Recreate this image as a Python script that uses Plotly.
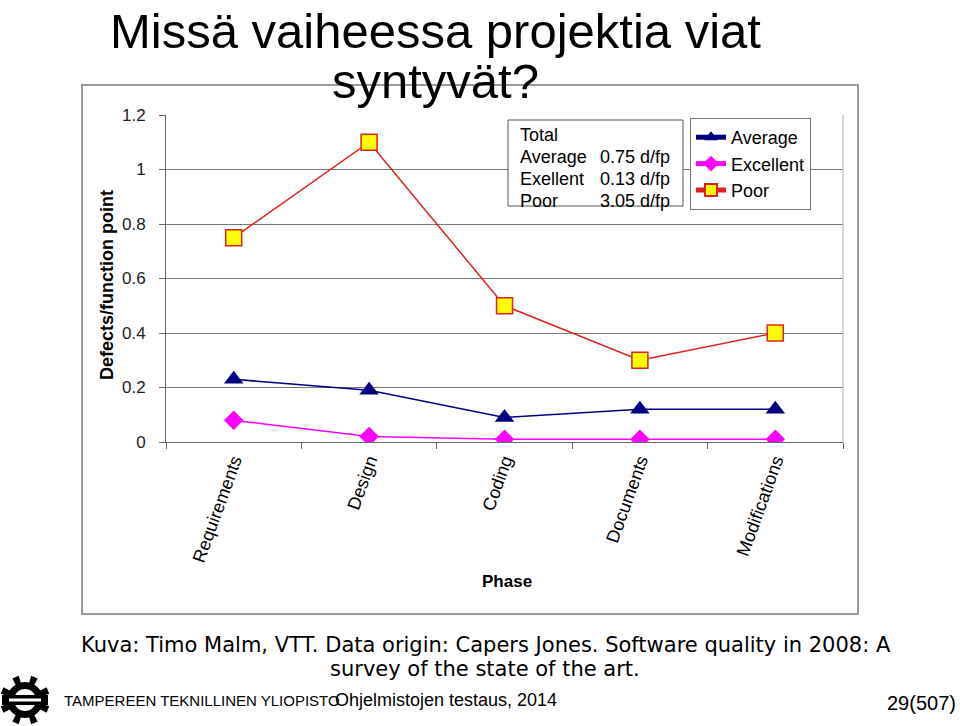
import math
import plotly.graph_objects as go

# ---- data ----
phases = ["Requirements", "Design", "Coding", "Documents", "Modifications"]
average = [0.23, 0.19, 0.09, 0.12, 0.12]
excellent = [0.08, 0.02, 0.01, 0.01, 0.01]
poor = [0.75, 1.10, 0.50, 0.30, 0.40]
y_ticks = [0, 0.2, 0.4, 0.6, 0.8, 1.0, 1.2]
y_tick_text = ["0", "0.2", "0.4", "0.6", "0.8", "1", "1.2"]
totals_labels = ["Average", "Exellent", "Poor"]
totals_values = ["0.75 d/fp", "0.13 d/fp", "3.05 d/fp"]

W, H = 960, 726
L, R, T, B = 166, 843, 115, 442


def px(x):
    return (x - L) / (R - L)


def py(y):
    return (B - y) / (B - T)


fig = go.Figure()
fig.add_trace(go.Scatter(x=phases, y=average, name="Average", mode="lines+markers",
                         line=dict(color="#000080", width=1.5),
                         marker=dict(symbol="triangle-up", size=17, color="#000080")))
fig.add_trace(go.Scatter(x=phases, y=excellent, name="Excellent", mode="lines+markers",
                         line=dict(color="#FF00FF", width=1.5),
                         marker=dict(symbol="diamond", size=15, color="#FF00FF")))
fig.add_trace(go.Scatter(x=phases, y=poor, name="Poor", mode="lines+markers",
                         line=dict(color="#E02020", width=1.5),
                         marker=dict(symbol="square", size=16, color="#FFFF00",
                                     line=dict(color="#E02020", width=1.5))))

shapes = []
# chart outer frame
shapes.append(dict(type="rect", xref="paper", yref="paper", x0=px(82), x1=px(858),
                   y0=py(614), y1=py(85), line=dict(color="#999999", width=2), layer="below"))
# totals box
shapes.append(dict(type="rect", xref="paper", yref="paper", x0=px(508), x1=px(683),
                   y0=py(206), y1=py(120), line=dict(color="#555555", width=1),
                   fillcolor="white", layer="above"))

# logo (gear)
cx, cy = 25, 700
pts = []
for k in range(8):
    a = 22.5 + 45 * k
    for da, r in [(-22.5, 18), (-9, 18), (-8, 25), (8, 25), (9, 18)]:
        ang = math.radians(a + da)
        pts.append((cx + r * math.cos(ang), cy - r * math.sin(ang)))
path = "M " + " L ".join(f"{px(x):.5f},{py(y):.5f}" for x, y in pts) + " Z"
shapes.append(dict(type="path", xref="paper", yref="paper", path=path,
                   fillcolor="black", line=dict(width=0), layer="above"))
shapes.append(dict(type="circle", xref="paper", yref="paper", x0=px(cx - 11), x1=px(cx + 11),
                   y0=py(cy + 11), y1=py(cy - 11), fillcolor="white", line=dict(width=0)))
shapes.append(dict(type="rect", xref="paper", yref="paper", x0=px(2), x1=px(48),
                   y0=py(cy + 5), y1=py(cy - 5), fillcolor="black", line=dict(width=0)))
shapes.append(dict(type="rect", xref="paper", yref="paper", x0=px(9), x1=px(41),
                   y0=py(cy + 1.5), y1=py(cy - 1.5), fillcolor="white", line=dict(width=0)))

ann = []
ARIAL = "Liberation Sans, Arial, sans-serif"
ann.append(dict(text="Missä vaiheessa projektia viat", x=px(435), y=py(31), xref="paper", yref="paper",
                showarrow=False, xanchor="center", yanchor="middle",
                font=dict(family=ARIAL, size=49, color="black")))
ann.append(dict(text="syntyvät?", x=px(435), y=py(81), xref="paper", yref="paper",
                showarrow=False, xanchor="center", yanchor="middle",
                font=dict(family=ARIAL, size=49, color="black")))
# axis titles
ann.append(dict(text="<b>Defects/function point</b>", x=px(107), y=py(285), xref="paper", yref="paper",
                showarrow=False, textangle=-90, xanchor="center", yanchor="middle",
                font=dict(family=ARIAL, size=18, color="black")))
ann.append(dict(text="<b>Phase</b>", x=px(507), y=py(581), xref="paper", yref="paper",
                showarrow=False, xanchor="center", yanchor="middle",
                font=dict(family=ARIAL, size=17, color="black")))
# totals box text
ann.append(dict(text="Total", x=px(518), y=py(135), xref="paper", yref="paper", showarrow=False,
                xanchor="left", yanchor="middle", font=dict(family=ARIAL, size=18, color="black")))
for i, (lab, val) in enumerate(zip(totals_labels, totals_values)):
    yy = py(157 + 22 * i)
    ann.append(dict(text=lab, x=px(518), y=yy, xref="paper", yref="paper", showarrow=False,
                    xanchor="left", yanchor="middle", font=dict(family=ARIAL, size=18, color="black")))
    ann.append(dict(text=val, x=px(672), y=yy, xref="paper", yref="paper", showarrow=False,
                    xanchor="right", yanchor="middle", font=dict(family=ARIAL, size=18, color="black")))
# footer
DV = "DejaVu Sans, Verdana, sans-serif"
ann.append(dict(text="Kuva: Timo Malm, VTT. Data origin: Capers Jones. Software quality in 2008: A",
                x=px(486), y=py(645), xref="paper", yref="paper", showarrow=False,
                xanchor="center", yanchor="middle", font=dict(family=DV, size=21, color="black")))
ann.append(dict(text="survey of the state of the art.",
                x=px(485), y=py(669), xref="paper", yref="paper", showarrow=False,
                xanchor="center", yanchor="middle", font=dict(family=DV, size=21, color="black")))
ann.append(dict(text="TAMPEREEN TEKNILLINEN YLIOPISTO", x=px(62), y=py(700), xref="paper", yref="paper",
                showarrow=False, xanchor="left", yanchor="middle",
                font=dict(family=ARIAL, size=15, color="black")))
ann.append(dict(text="Ohjelmistojen testaus, 2014", x=px(333), y=py(700), xref="paper", yref="paper",
                showarrow=False, xanchor="left", yanchor="middle",
                font=dict(family=ARIAL, size=18, color="black")))
ann.append(dict(text="29(507)", x=px(958), y=py(703), xref="paper", yref="paper",
                showarrow=False, xanchor="right", yanchor="middle",
                font=dict(family=ARIAL, size=20, color="black")))

fig.update_layout(
    width=W, height=H, autosize=False,
    margin=dict(l=L, r=W - R, t=T, b=H - B, pad=0),
    paper_bgcolor="white", plot_bgcolor="white",
    showlegend=True,
    legend=dict(x=px(690), y=py(118), xanchor="left", yanchor="top",
                bordercolor="#777777", borderwidth=1, bgcolor="white",
                font=dict(family=ARIAL, size=18, color="black"),
                itemsizing="constant", itemwidth=30, tracegroupgap=0),
    shapes=shapes, annotations=ann,
    font=dict(family=ARIAL),
)
fig.update_xaxes(type="category", range=[-0.5, 4.5], tickson="boundaries", ticks="outside",
                 ticklen=6, tickcolor="#666666", showline=True, linecolor="#666666", linewidth=1,
                 showgrid=False, tickangle=-70, mirror=False,
                 tickfont=dict(family=ARIAL, size=18, color="black"))
fig.update_yaxes(range=[0, 1.2], tickvals=y_ticks, ticktext=y_tick_text, ticks="outside",
                 ticklen=6, tickcolor="#666666", showline=True, linecolor="#666666", linewidth=1,
                 showgrid=True, gridcolor="#777777", gridwidth=1, zeroline=False,
                 ticklabelstandoff=10,
                 tickfont=dict(family=ARIAL, size=17, color="#222222"))
# right plot border
fig.add_shape(type="line", xref="paper", yref="paper", x0=1, x1=1, y0=0, y1=1,
              line=dict(color="#aaaaaa", width=1))

fig.write_html("out.html", config={"displayModeBar": False},
               post_script="document.body.style.margin='0';document.body.style.overflow='hidden';")
